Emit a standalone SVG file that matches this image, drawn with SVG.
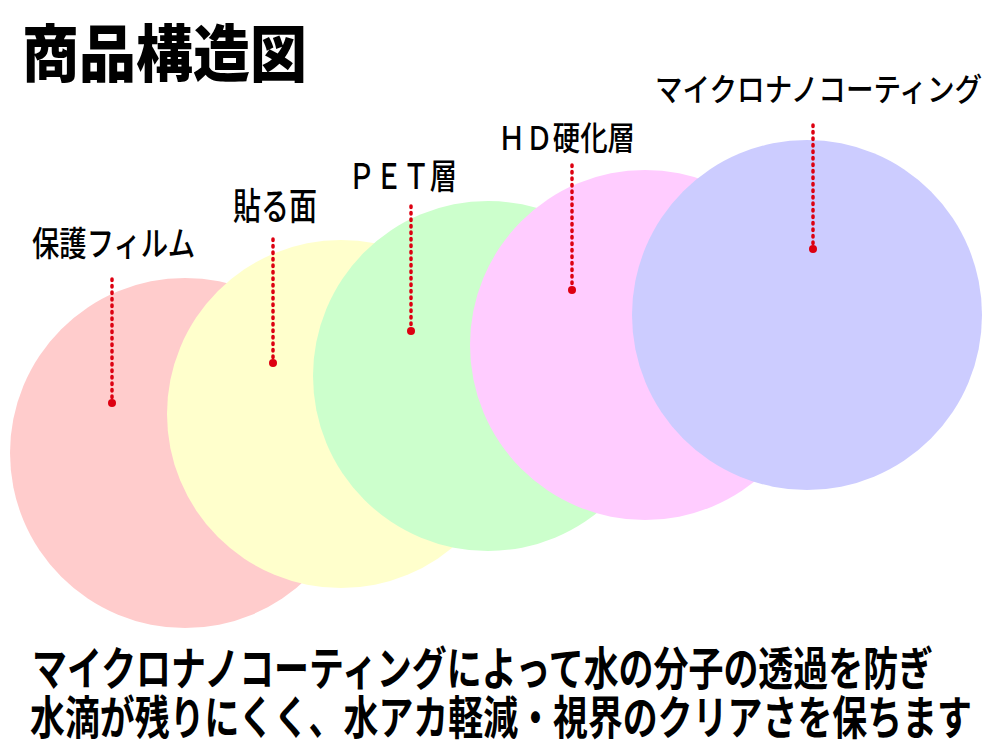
<svg xmlns="http://www.w3.org/2000/svg" width="1000" height="750" viewBox="0 0 1000 750">
<style>
.lbl{font-family:"Noto Sans CJK JP","Noto Sans",sans-serif;fill:#000;font-weight:500}
.title{font-family:"Noto Sans CJK JP","Noto Sans",sans-serif;fill:#000;font-weight:900}
.body{font-family:"Noto Sans CJK JP","Noto Sans",sans-serif;fill:#000;font-weight:700}
.lead{stroke:#DD0011;stroke-width:3.5;stroke-dasharray:1.5 5;stroke-linecap:round;fill:none}
.dot{fill:#DD0011}
</style>
<rect width="1000" height="750" fill="#fff"/>
<g id="title"><text class="title" x="22" y="77" font-size="62" textLength="285" lengthAdjust="spacingAndGlyphs">商品構造図</text></g>
<g id="layer-protect"><circle cx="185" cy="453" r="175" fill="#FFCCCC"/></g>
<g id="layer-adhesive"><circle cx="341" cy="414" r="174" fill="#FFFFCC"/></g>
<g id="layer-pet"><circle cx="488" cy="376" r="175" fill="#CCFFCC"/></g>
<g id="layer-hd"><circle cx="645" cy="345" r="175" fill="#FFCCFF"/></g>
<g id="layer-nano"><circle cx="807" cy="315" r="175" fill="#CCCCFF"/></g>
<g id="connectors">
<line class="lead" x1="112" y1="279" x2="112" y2="401"/><circle class="dot" cx="112" cy="403" r="4"/>
<line class="lead" x1="273" y1="239" x2="273" y2="361"/><circle class="dot" cx="273" cy="363" r="4"/>
<line class="lead" x1="411" y1="206" x2="411" y2="329"/><circle class="dot" cx="411" cy="331" r="4"/>
<line class="lead" x1="572" y1="165" x2="572" y2="288"/><circle class="dot" cx="572" cy="290" r="4"/>
<line class="lead" x1="813" y1="125" x2="813" y2="247"/><circle class="dot" cx="813" cy="249" r="4"/>
</g>
<g id="labels">
<text class="lbl" x="32" y="256" font-size="34" textLength="163" lengthAdjust="spacingAndGlyphs">保護フィルム</text>
<text class="lbl" x="233" y="220" font-size="37" textLength="84" lengthAdjust="spacingAndGlyphs">貼る面</text>
<text class="lbl" x="348" y="189" font-size="35" textLength="109" lengthAdjust="spacingAndGlyphs">ＰＥＴ層</text>
<text class="lbl" x="498" y="150" font-size="33" textLength="137" lengthAdjust="spacingAndGlyphs">ＨＤ硬化層</text>
<text class="lbl" x="655" y="101" font-size="32" textLength="327" lengthAdjust="spacingAndGlyphs">マイクロナノコーティング</text>
</g>
<g id="caption">
<text class="body" x="32" y="685" font-size="46" textLength="901" lengthAdjust="spacingAndGlyphs">マイクロナノコーティングによって水の分子の透過を防ぎ</text>
<text class="body" x="30" y="734" font-size="46" textLength="942" lengthAdjust="spacingAndGlyphs">水滴が残りにくく、水アカ軽減・視界のクリアさを保ちます</text>
</g>
</svg>
